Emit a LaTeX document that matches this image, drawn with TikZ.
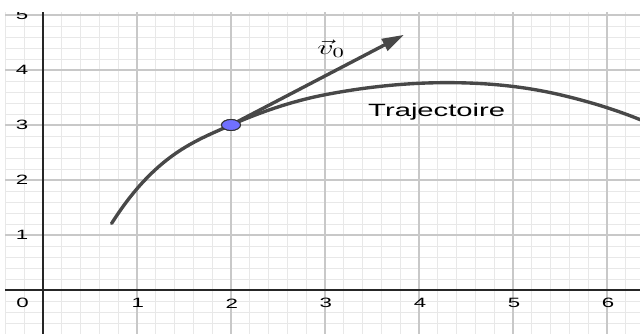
\documentclass[tikz,border=0pt]{standalone}
\usepackage{fontspec}
\newfontfamily\geo[FakeStretch=1.65]{Liberation Sans}
\usetikzlibrary{arrows.meta,shapes.geometric}
\definecolor{majorgrid}{RGB}{200,200,200}
\definecolor{minorgrid}{RGB}{232,232,232}
\definecolor{curvegray}{RGB}{72,72,72}
\definecolor{ptblue}{RGB}{112,112,255}
\begin{document}
\begin{tikzpicture}[x=2.35cm,y=1.375cm,
  minorline/.style={minorgrid, line width=0.7pt},
  majorline/.style={majorgrid, line width=1.1pt},
  axisline/.style={black!85, line width=1.4pt},
  ticklabel/.style={font=\geo\fontsize{9.6}{11}\selectfont, inner sep=0pt, text=black},
  traj/.style={curvegray, line width=2.4pt, line cap=round},
  vecline/.style={curvegray, line width=2.4pt, -{Triangle[length=0.55cm,width=0.32cm]}},
  ptstyle/.style={ellipse, draw=black!80, line width=0.7pt, fill=ptblue, minimum width=0.475cm, minimum height=0.275cm, inner sep=0pt},
  textlabel/.style={inner sep=0pt, anchor=base west}]
\useasboundingbox (-0.4574,-0.8) rectangle (6.3511,5.2727);
\begin{scope}
\clip (-0.404,-0.8) rectangle (6.3511,5.04);
% grid
\foreach \i in {-2,...,32} \draw[minorline] (\i/5,-0.8) -- (\i/5,5.2);
\foreach \j in {-4,...,26} \draw[minorline] (-0.5,\j/5) -- (6.4,\j/5);
\foreach \i in {1,...,6} \draw[majorline] (\i,-0.8) -- (\i,5.2);
\foreach \j in {1,...,5} \draw[majorline] (-0.5,\j) -- (6.4,\j);
% axes
\coordinate (xl) at (-0.5,0);
\coordinate (xr) at (6.4,0);
\coordinate (yb) at (0,-0.8);
\coordinate (yt) at (0,5.2);
\draw[axisline] (xl) -- (xr);
\draw[axisline] (yb) -- (yt);
% tick labels
\node[ticklabel] (l0) at (-0.216,-0.242) {0};
\foreach \i in {1,...,6} \node[ticklabel] (lx\i) at (\i+0.01,-0.242) {\i};
\foreach \j in {1,...,5} \node[ticklabel] (ly\j) at (-0.223,\j+0.01) {\j};
% trajectory
\draw[traj] (0.73,1.21) .. controls (0.953,1.813) and (1.177,2.202) .. (1.4,2.47)
  .. controls (1.6,2.71) and (1.8,2.85) .. (2,3)
  .. controls (2.333,3.25) and (2.667,3.44) .. (3,3.55)
  .. controls (3.433,3.693) and (3.867,3.77) .. (4.3,3.77)
  .. controls (4.7,3.77) and (5.1,3.71) .. (5.5,3.55)
  .. controls (5.833,3.417) and (6.167,3.243) .. (6.5,2.99);
% vector
\node[ptstyle] (P) at (2,3) {};
\coordinate (tip) at (3.84,4.64);
\draw[vecline] (P.center) -- (tip);
\node[ptstyle] (P2) at (P) {};
% labels
\node[textlabel] (vlab) at (2.915,4.285) {\fontsize{14}{16}\selectfont\scalebox{1.6}[1]{$\vec{v}_0$}};
\node[textlabel, font=\geo\fontsize{12.6}{15}\selectfont] (traj) at (3.457,3.151) {Trajectoire};
\end{scope}
\end{tikzpicture}
\end{document}
